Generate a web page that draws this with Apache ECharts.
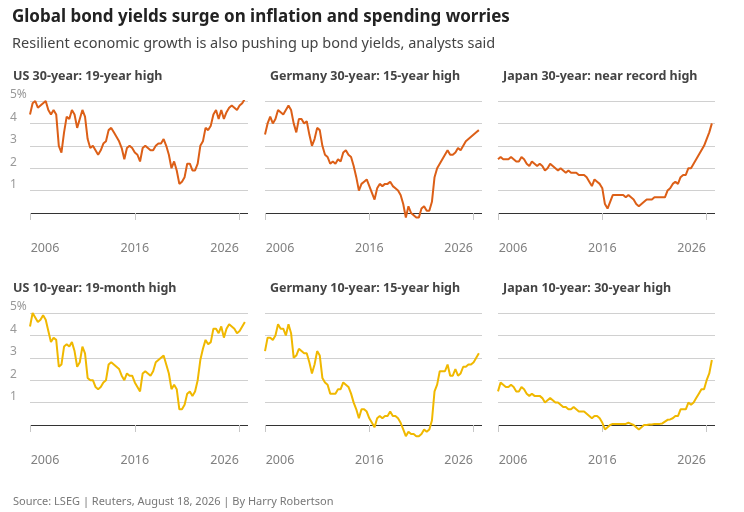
<!DOCTYPE html>
<html><head><meta charset="utf-8">
<script src="https://cdn.jsdelivr.net/npm/echarts@6/dist/echarts.min.js"></script>
<style>html,body{margin:0;padding:0;background:#fff}#c{width:744px;height:512px}</style>
</head><body><div id="c"></div>
<script>
// quarterly dates 2006.0 .. 2026.5
const dates = [];
for (let i = 0; i < 83; i++) dates.push(2006 + i * 0.25);
const xTicks = [2006, 2016, 2026];
const yTicks = ['', '', '1', '2', '3', '4', '5%'];

const us30 = [4.4,4.9,5.0,4.7, 4.8,4.9,5.0,4.6, 4.4,4.6,4.4,3.0, 2.7,3.6,4.3,4.2, 4.6,4.4,3.8,4.2,
  4.6,4.3,3.3,2.9, 3.0,2.8,2.6,2.8, 3.1,3.2,3.7,3.8, 3.6,3.4,3.2,2.9, 2.4,2.9,3.0,2.9,
  2.7,2.6,2.3,2.9, 3.0,2.9,2.8,2.8, 3.0,3.1,3.1,3.3, 3.0,2.6,2.0,2.3, 1.9,1.3,1.4,1.6,
  2.2,2.2,1.9,1.9, 2.2,3.0,3.2,3.8, 3.7,3.9,4.4,4.6, 4.2,4.6,4.2,4.5, 4.7,4.8,4.7,4.6, 4.8,4.9,5.1];
const de30 = [3.5,4.0,4.3,4.0, 4.2,4.6,4.5,4.4, 4.6,4.8,4.6,4.0, 3.6,4.2,4.2,4.0, 4.1,3.5,3.0,3.3,
  3.8,3.7,3.0,2.6, 2.5,2.2,2.3,2.2, 2.4,2.3,2.7,2.8, 2.6,2.5,2.1,1.6, 1.0,1.3,1.4,1.5,
  1.2,0.9,0.6,1.1, 1.3,1.2,1.3,1.3, 1.4,1.2,1.1,1.0, 0.8,0.4,-0.2,0.3, 0.0,-0.1,-0.2,-0.2,
  0.2,0.3,0.1,0.1, 0.5,1.6,2.0,2.2, 2.4,2.6,2.8,2.6, 2.6,2.7,2.9,2.8, 3.0,3.2,3.3,3.4, 3.5,3.6,3.7];
const jp30 = [2.4,2.5,2.4,2.4, 2.4,2.5,2.4,2.3, 2.3,2.5,2.4,2.2, 2.1,2.3,2.2,2.1, 2.2,2.1,1.9,2.0,
  2.2,2.1,2.0,1.9, 2.0,1.9,1.8,1.9, 1.8,1.8,1.8,1.7, 1.7,1.7,1.6,1.4, 1.2,1.5,1.4,1.3,
  1.1,0.4,0.2,0.5, 0.8,0.8,0.8,0.8, 0.8,0.7,0.8,0.7, 0.6,0.4,0.3,0.4, 0.5,0.6,0.6,0.6,
  0.7,0.7,0.7,0.7, 0.7,1.0,1.1,1.3, 1.4,1.3,1.6,1.7, 1.7,2.0,2.0,2.2, 2.4,2.6,2.8,3.0, 3.3,3.6,4.0];
const us10 = [4.4,5.0,4.8,4.6, 4.7,4.9,4.7,4.2, 3.7,3.9,3.8,2.6, 2.7,3.5,3.6,3.5, 3.7,3.3,2.6,2.8,
  3.5,3.2,2.1,2.0, 2.0,1.7,1.6,1.7, 1.9,2.0,2.7,2.8, 2.7,2.6,2.5,2.2, 2.0,2.3,2.2,2.2,
  1.9,1.7,1.5,2.3, 2.4,2.3,2.2,2.4, 2.8,2.9,3.0,3.1, 2.7,2.3,1.6,1.8, 1.6,0.7,0.7,0.9,
  1.4,1.5,1.3,1.5, 2.0,2.9,3.4,3.8, 3.6,3.7,4.3,4.3, 4.1,4.4,3.9,4.3, 4.5,4.4,4.3,4.1, 4.2,4.4,4.6];
const de10 = [3.3,3.9,3.9,3.8, 4.0,4.5,4.3,4.3, 4.0,4.5,4.1,3.0, 3.1,3.4,3.3,3.2, 3.2,2.8,2.3,2.7,
  3.3,3.1,2.1,1.9, 1.8,1.4,1.4,1.4, 1.6,1.6,1.9,1.8, 1.7,1.4,1.0,0.7, 0.3,0.7,0.7,0.6,
  0.3,0.1,-0.1,0.3, 0.4,0.3,0.4,0.4, 0.6,0.4,0.4,0.3, 0.1,-0.2,-0.5,-0.3, -0.4,-0.4,-0.5,-0.5,
  -0.4,-0.2,-0.3,-0.2, 0.2,1.5,1.8,2.4, 2.4,2.4,2.7,2.2, 2.2,2.5,2.2,2.3, 2.6,2.6,2.7,2.7, 2.8,3.0,3.2];
const jp10 = [1.5,1.9,1.8,1.7, 1.7,1.8,1.7,1.5, 1.5,1.7,1.6,1.4, 1.3,1.4,1.3,1.3, 1.3,1.2,1.0,1.1,
  1.2,1.1,1.0,1.0, 0.9,0.8,0.8,0.7, 0.7,0.8,0.7,0.6, 0.6,0.6,0.5,0.4, 0.3,0.4,0.4,0.3,
  0.1,-0.2,-0.1,0.0, 0.05,0.05,0.05,0.05, 0.05,0.05,0.1,0.05, 0.0,-0.1,-0.2,-0.1, 0.0,0.0,0.02,0.02,
  0.05,0.05,0.05,0.07, 0.15,0.23,0.25,0.3, 0.4,0.4,0.7,0.7, 0.7,1.0,0.9,1.0, 1.2,1.4,1.6,1.6, 2.0,2.3,2.9];

const panels = [
  {t:'US 30-year: 19-year high', d:us30, c:'#dc5f17'},
  {t:'Germany 30-year: 15-year high', d:de30, c:'#dc5f17'},
  {t:'Japan 30-year: near record high', d:jp30, c:'#dc5f17'},
  {t:'US 10-year: 19-month high', d:us10, c:'#f0b800'},
  {t:'Germany 10-year: 15-year high', d:de10, c:'#f0b800'},
  {t:'Japan 10-year: 30-year high', d:jp10, c:'#f0b800'}
];
const cols = [[30,248],[265,482],[498,715]];
const rows = [101, 313];
const unit = 22.4;
const FONT = '"Noto Sans", "Open Sans", sans-serif';

const grid=[], xAxis=[], yAxis=[], series=[], titles=[];
panels.forEach((p,i)=>{
  const r = Math.floor(i/3), c = i%3;
  const top = rows[r], h = unit*6;
  grid.push({left:cols[c][0], width:cols[c][1]-cols[c][0], top:top, height:h});
  xAxis.push({type:'value', gridIndex:i, min:2006, max:2026.8, interval:10,
    axisLine:{show:false}, splitLine:{show:false},
    axisTick:{show:true, length:7, lineStyle:{color:'#c8c8c8'}},
    axisLabel:{show:true, color:'#808080', fontSize:12.5, fontFamily:FONT, align:'center', margin:7,
      showMaxLabel:false,
      formatter:v=> v===xTicks[0]?'{a|'+v+'}': v===xTicks[2]?'{b|'+v+'}': (xTicks.includes(v)?String(v):''),
      rich:{a:{padding:[0,0,0,30], color:'#808080', fontSize:12.5, fontFamily:FONT},
            b:{padding:[0,30,0,0], color:'#808080', fontSize:12.5, fontFamily:FONT}}}});
  yAxis.push({type:'value', gridIndex:i, min:-1, max:5, interval:1,
    axisLine:{show:false}, axisTick:{show:false},
    splitLine:{show:true, lineStyle:{width:1, color:['rgba(0,0,0,0)','#333','#d0d0d0','#d0d0d0','#d0d0d0','#d0d0d0','#d0d0d0']}},
    axisLabel:{show:c===0, inside:false, color:'#999', fontSize:12, fontFamily:FONT, align:'left',
      margin:20, verticalAlign:'bottom', formatter:v=>yTicks[Math.round(v)+1]}});
  series.push({type:'line', xAxisIndex:i, yAxisIndex:i, showSymbol:false, symbol:'none',
    lineStyle:{color:p.c, width:2}, data:dates.map((x,k)=>[x,p.d[k]]), animation:false});
  titles.push({text:p.t, left:cols[c][0]===30?8:cols[c][0], top:top-36,
    textStyle:{fontSize:12.5, fontWeight:'bold', color:'#444', fontFamily:FONT}});
});
titles.push({text:'Global bond yields surge on inflation and spending worries', left:7, top:4,
  textStyle:{fontSize:17, fontWeight:'bold', color:'#222', fontFamily:FONT}});
titles.push({text:'Resilient economic growth is also pushing up bond yields, analysts said', left:7, top:31,
  textStyle:{fontSize:14.5, fontWeight:'normal', color:'#444', fontFamily:FONT}});
titles.push({text:'Source: LSEG | Reuters, August 18, 2026 | By Harry Robertson', left:8, top:491,
  textStyle:{fontSize:11, fontWeight:'normal', color:'#777', fontFamily:FONT}});

const chart = echarts.init(document.getElementById('c'));
chart.setOption({animation:false, title:titles, grid, xAxis, yAxis, series});
</script></body></html>
